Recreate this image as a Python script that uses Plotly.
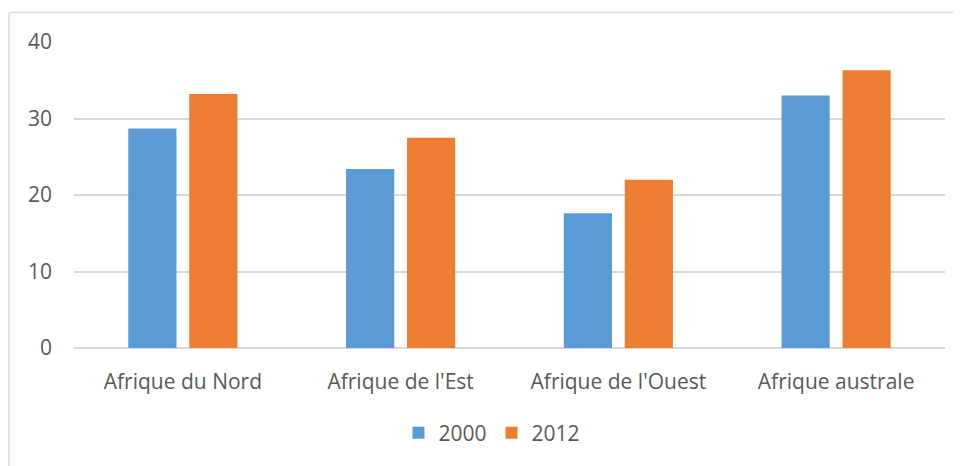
import plotly.graph_objects as go

categories = ["Afrique du Nord", "Afrique de l'Est", "Afrique de l'Ouest", "Afrique australe"]
values_2000 = [28.7, 23.4, 17.6, 33.0]
values_2012 = [33.2, 27.5, 22.0, 36.3]
y_ticks = [0, 10, 20, 30, 40]

FONT = "Open Sans, Liberation Sans, sans-serif"
GRAY = "#595959"
GRID = "#d9d9d9"

# The page body has an 8px margin; figure is sized to fit the viewport.
OFF = 8
W, H = 961 - OFF, 466 - OFF
# plot area in screen pixels
PX0, PX1, PY0, PY1 = 74, 945, 42, 348
L, R = PX0 - OFF, W - (PX1 - OFF)
T, B = PY0 - OFF, H - (PY1 - OFF)
pw, ph = PX1 - PX0, PY1 - PY0

def px_x(p):
    return (p - PX0) / pw

def px_y(p):
    return (PY1 - p) / ph

fig = go.Figure()
fig.add_trace(go.Bar(name="2000", x=categories, y=values_2000,
                     marker=dict(color="#5B9BD5", line=dict(width=0))))
fig.add_trace(go.Bar(name="2012", x=categories, y=values_2012,
                     marker=dict(color="#ED7D31", line=dict(width=0))))

fig.update_layout(
    width=W, height=H,
    margin=dict(l=L, r=R, t=T, b=B, pad=0),
    paper_bgcolor="white", plot_bgcolor="white",
    barmode="group", bargap=0.44, bargroupgap=0.21,
    font=dict(family=FONT, size=21, color=GRAY),
    showlegend=True,
    legend=dict(orientation="h", x=px_x(492), xanchor="center",
                y=px_y(433), yanchor="middle",
                font=dict(family=FONT, size=21, color=GRAY),
                itemclick=False, bgcolor="rgba(0,0,0,0)"),
    xaxis=dict(showgrid=False, showline=False, zeroline=False,
               ticks="", tickfont=dict(family=FONT, size=21, color=GRAY),
               ticklabelstandoff=19, fixedrange=True),
    yaxis=dict(range=[0, 40], tickvals=y_ticks, showgrid=True,
               gridcolor=GRID, gridwidth=1.5, zeroline=True,
               zerolinecolor=GRID, zerolinewidth=1.5, showline=False,
               ticks="", tickfont=dict(family=FONT, size=21, color=GRAY),
               ticklabelstandoff=21, fixedrange=True),
    shapes=[
        dict(type="line", xref="paper", yref="paper",
             x0=px_x(9), x1=px_x(975), y0=px_y(12.5), y1=px_y(12.5),
             line=dict(color=GRID, width=1.5)),
        dict(type="line", xref="paper", yref="paper",
             x0=px_x(9), x1=px_x(9), y0=px_y(12.5), y1=px_y(480),
             line=dict(color=GRID, width=1.5)),
    ],
)

fig.write_html("out.html")
